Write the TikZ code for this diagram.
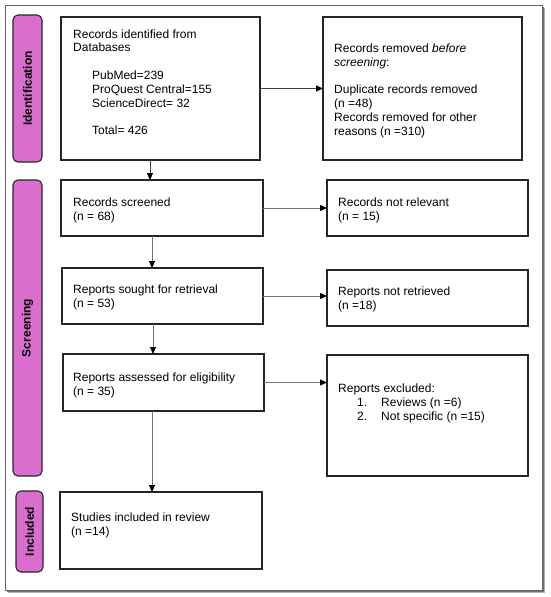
\documentclass[tikz,border=0pt]{standalone}
\usepackage{fontspec}
\setmainfont{Liberation Sans}
\usetikzlibrary{arrows.meta}
\definecolor{lblpink}{RGB}{217,110,207}
\newcommand\tlines[1]{\begin{tabular}[t]{@{}l@{}}#1\end{tabular}}
\begin{document}
\begin{tikzpicture}[x=1pt,y=-1pt,
 box/.style={draw=black!85, line width=1.1pt, fill=white, inner sep=0pt, outer sep=0pt},
 lbl/.style={draw=black!85, line width=1.1pt, fill=lblpink, rounded corners=5pt, inner sep=0pt, outer sep=0pt},
 lbltxt/.style={rotate=90, font=\fontsize{12}{14}\selectfont\bfseries, inner sep=0pt},
 txt/.style={anchor=base west, inner sep=0pt, font=\fontsize{12}{13.8}\selectfont},
 arr/.style={draw=black!55, line width=0.8pt, -{Triangle[length=7pt,width=6pt,black]}},
 arrd/.style={arr, draw=black!75},
]
\useasboundingbox (0,0) rectangle (550,597);
% frame with shadow
\fill[black!30] (8,8) rectangle (545,593);
\fill[black!55] (7,7) rectangle (543.5,591.5);
\draw[draw=black!60, fill=white, line width=0.8pt] (5,5) rectangle (542,590);

% phase labels
\node[lbl, minimum width=29pt, minimum height=147pt] (lblId) at (27.5,88.5) {};
\node[lbl, minimum width=29pt, minimum height=296pt] (lblScr) at (27.5,328) {};
\node[lbl, minimum width=27pt, minimum height=81pt] (lblInc) at (29.5,531.5) {};
\node[lbltxt] (tId) at (lblId.center) {Identification};
\node[lbltxt] (tScr) at (lblScr.center) {Screening};
\node[lbltxt] (tInc) at (lblInc.center) {Included};

% boxes
\node[box, minimum width=199pt, minimum height=143pt] (id) at (160.5,88.5) {};
\node[box, minimum width=199pt, minimum height=143pt] (rem) at (422.5,88.5) {};
\node[box, minimum width=202pt, minimum height=56pt] (scr) at (162,208) {};
\node[box, minimum width=201pt, minimum height=56pt] (nrel) at (427.5,208) {};
\node[box, minimum width=201pt, minimum height=56pt] (sought) at (162.5,296) {};
\node[box, minimum width=201pt, minimum height=56pt] (nret) at (427.5,298) {};
\node[box, minimum width=201pt, minimum height=57pt] (ass) at (163.5,382.5) {};
\node[box, minimum width=201pt, minimum height=121pt] (exc) at (427.5,415.5) {};
\node[box, minimum width=202pt, minimum height=77pt] (inc) at (161,530.5) {};

% texts
\node[txt] (tid) at (73,38) {\tlines{Records identified from\\Databases\\[13.8pt]
\hspace*{19pt}PubMed=239\\\hspace*{19pt}ProQuest Central=155\\\hspace*{19pt}ScienceDirect= 32\\[13.8pt]
\hspace*{19pt}Total= 426}};
\node[txt] (trem) at (334,52.5) {\tlines{Records removed \emph{before}\\\emph{screening}:\\[13.8pt]
Duplicate records removed\\(n =48)\\Records removed for other\\reasons (n =310)}};
\node[txt] (tscr) at (73,206.5) {\tlines{Records screened\\(n = 68)}};
\node[txt] (tnrel) at (338,206.5) {\tlines{Records not relevant\\(n = 15)}};
\node[txt] (tsought) at (73,293.5) {\tlines{Reports sought for retrieval\\(n = 53)}};
\node[txt] (tnret) at (338,295.5) {\tlines{Reports not retrieved\\(n =18)}};
\node[txt] (tass) at (73,381.5) {\tlines{Reports assessed for eligibility\\(n = 35)}};
\node[txt] (texc) at (338,392.5) {\tlines{Reports excluded:\\
\hspace*{19pt}\makebox[24pt][l]{1.}Reviews (n =6)\\
\hspace*{19pt}\makebox[24pt][l]{2.}Not specific (n =15)}};
\node[txt] (tinc) at (71,521.5) {\tlines{Studies included in review\\(n =14)}};

% connectors
\coordinate (v1) at (150,0);
\coordinate (v2) at (152,0);
\coordinate (v3) at (153,0);
\coordinate (v4) at (152,0);
\draw[arrd] (id.east) -- (rem.west);
\draw[arrd] (id.south -| v1) -- (scr.north -| v1);
\draw[arr] (scr.east) -- (scr.east -| nrel.west);
\draw[arr] (scr.south -| v2) -- (sought.north -| v2);
\draw[arr] (sought.east) -- (sought.east -| nret.west);
\draw[arr] (sought.south -| v3) -- (ass.north -| v3);
\draw[arr] (ass.east) -- (ass.east -| exc.west);
\draw[arr] (ass.south -| v4) -- (inc.north -| v4);
\end{tikzpicture}
\end{document}
